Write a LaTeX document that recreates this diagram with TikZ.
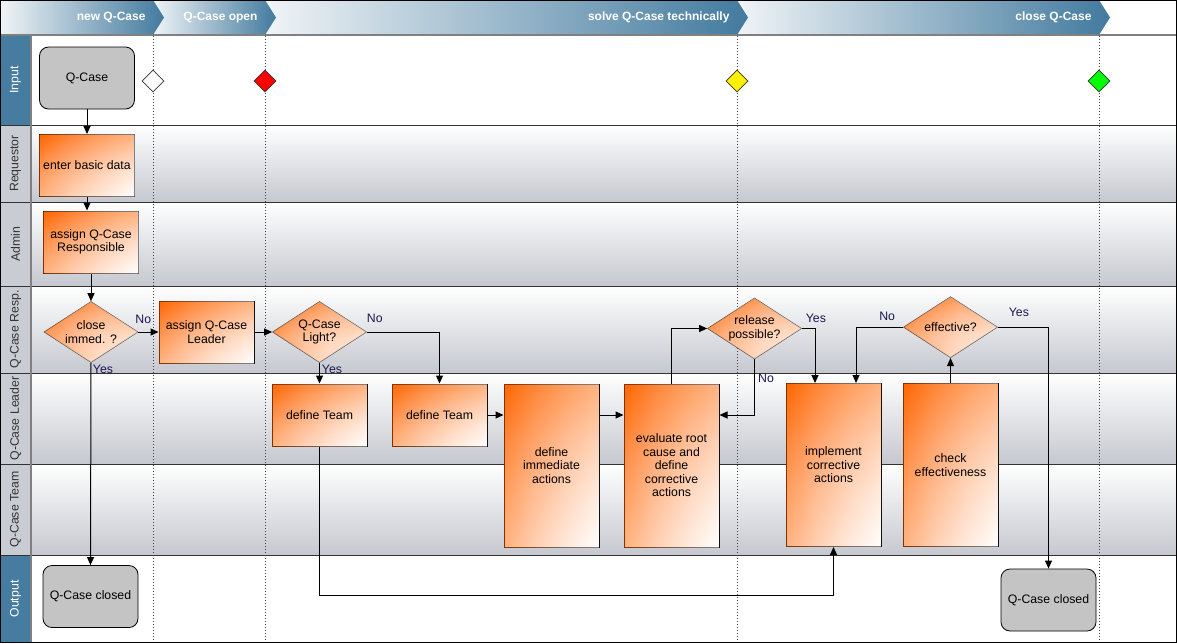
\documentclass[tikz,border=0pt]{standalone}
\usepackage{fontspec}
\setmainfont{Liberation Sans}
\usepackage{tikz}
\usetikzlibrary{arrows.meta,positioning,shapes.geometric,calc}
\definecolor{qorange}{RGB}{255,102,0}
\definecolor{qmid}{RGB}{255,165,110}
\definecolor{qlight}{RGB}{255,214,188}
\definecolor{qpeach}{RGB}{255,236,222}
\definecolor{headblue}{RGB}{66,122,158}
\definecolor{headpale}{RGB}{240,244,247}
\definecolor{lanegrey}{RGB}{197,200,207}
\definecolor{labelgrey}{RGB}{201,204,210}
\definecolor{laneblue}{RGB}{69,124,160}
\definecolor{boxgrey}{RGB}{196,196,196}
\definecolor{yesno}{RGB}{25,25,80}
\pgfdeclareverticalshading{taskv}{100bp}{color(0bp)=(white); color(25bp)=(white); color(42bp)=(qlight); color(58bp)=(qmid); color(75bp)=(qorange); color(100bp)=(qorange)}
\pgfdeclarehorizontalshading{taskh}{100bp}{color(0bp)=(qorange); color(25bp)=(qorange); color(42bp)=(qmid); color(58bp)=(qlight); color(75bp)=(white); color(100bp)=(white)}
\pgfdeclareverticalshading{decv}{100bp}{color(0bp)=(qpeach); color(25bp)=(qpeach); color(45bp)=(qlight); color(60bp)=(qmid); color(75bp)=(qorange); color(100bp)=(qorange)}
\pgfdeclarehorizontalshading{dech}{100bp}{color(0bp)=(qorange); color(25bp)=(qorange); color(40bp)=(qmid); color(55bp)=(qlight); color(75bp)=(qpeach); color(100bp)=(qpeach)}
\tikzset{
  task/.style={draw, line width=1pt, shade, shading=taskv,
    postaction={shade, shading=taskh, fill opacity=0.5},
    align=center, inner sep=2pt, minimum width=95pt, minimum height=62pt},
  tall/.style={task, minimum height=163pt},
  decision/.style={diamond, draw=black!70, line width=0.7pt, shade, shading=decv,
    postaction={shade, shading=dech, fill opacity=0.5},
    align=center, inner sep=0pt, shape aspect=1.55, minimum width=94pt, minimum height=61pt},
  terminal/.style={draw, line width=0.8pt, rounded corners=9pt, fill=boxgrey, align=center, minimum width=95pt, minimum height=62pt},
  event/.style={diamond, draw=black!80, line width=0.7pt, inner sep=0pt, minimum width=22pt, minimum height=22pt},
  phase/.style={anchor=east, text=white, font=\fontsize{12}{14}\selectfont\bfseries},
  lanelbl/.style={rotate=90},
  lbl/.style={text=yesno, inner sep=0pt},
  milestone/.style={line width=1pt, black!75, dash pattern=on 1pt off 2pt},
  arrow/.style={-{Triangle[length=8pt,width=7pt]}, line width=1pt}
}
\begin{document}
\begin{tikzpicture}[x=1pt, y=-1pt, font=\fontsize{12.3}{13.5}\selectfont]
    \useasboundingbox (0,0) rectangle (1177,643);
    % Lanes
    \fill[white] (0,0) rectangle (1177,643);
    \shade[top color=white, bottom color=lanegrey] (31,125) rectangle (1177,202);
    \shade[top color=white, bottom color=lanegrey] (31,202) rectangle (1177,286);
    \shade[top color=white, bottom color=lanegrey] (31,286) rectangle (1177,373);
    \shade[top color=white, bottom color=lanegrey] (31,373) rectangle (1177,464);
    \shade[top color=white, bottom color=lanegrey] (31,464) rectangle (1177,555);
    \fill[laneblue] (0,35) rectangle (31,125);
    \fill[labelgrey] (0,125) rectangle (31,555);
    \fill[laneblue] (0,555) rectangle (31,643);
    \foreach \y in {125,202,286,373,464,555}
      \draw[line width=1pt, black!80] (0,\y) -- (1177,\y);
    \draw[line width=2pt, black!50] (31,35) -- (31,643);

    \node[lanelbl, text=white] (linput) at (15.5,80) {Input};
    \node[lanelbl, text=black!80] (lreq) at (15.5,163.5) {Requestor};
    \node[lanelbl, text=black!80] (ladmin) at (15.5,244) {Admin};
    \node[lanelbl, text=black!80] (lresp) at (15.5,329.5) {Q-Case Resp.};
    \node[lanelbl, text=black!80] (llead) at (15.5,418.5) {Q-Case Leader};
    \node[lanelbl, text=black!80] (lteam) at (15.5,509.5) {Q-Case Team};
    \node[lanelbl, text=white] (loutput) at (15.5,599) {Output};

    % Phases
    \foreach \a/\b in {737/1099, 265/737, 153/265, 0/153}
      \shade[left color=headpale, right color=headblue] (\a,0) -- (\b,0) -- (\b+11,17.5) -- (\b,35) -- (\a,35) -- cycle;
    \node[phase] (ph1) at (149,17.5) {new Q-Case};
    \node[phase] (ph2) at (261,17.5) {Q-Case open};
    \node[phase] (ph3) at (733,17.5) {solve Q-Case technically};
    \node[phase] (ph4) at (1095,17.5) {close Q-Case};
    \draw[line width=2pt, black!50] (0,35) -- (1177,35);

    % Milestones
    \foreach \x in {153,265,737,1099}
      \draw[milestone] (\x,36) -- (\x,643);
    \node[event, fill=white] (ev1) at (153,81) {};
    \node[event, fill=red] (ev2) at (265,81) {};
    \node[event, fill=yellow] (ev3) at (737,81) {};
    \node[event, fill=green] (ev4) at (1099,81) {};

    % Nodes
    \node[terminal] (qcase) at (87,78) {Q-Case};
    \node[task] (enter) at (87,165.5) {enter basic data};
    \node[task] (assignresp) at (91,242) {assign Q-Case\\Responsible};
    \node[decision] (closeimm) at (91,332) {close\\immed. ?};
    \node[task] (assignlead) at (206.5,332) {assign Q-Case\\Leader};
    \node[decision] (light) at (319.5,332) {Q-Case\\Light?};
    \node[task] (team1) at (319.5,415) {define Team};
    \node[task, right=24pt of team1] (team2) {define Team};
    \node[tall] (immed) at (551.5,465.5) {define\\immediate\\actions};
    \node[tall, right=24pt of immed] (evaluate) {evaluate root\\cause and\\define\\corrective\\actions};
    \node[decision] (release) at (754.5,328.5) {release\\possible?};
    \node[tall] (implement) at (833.5,465) {implement\\corrective\\actions};
    \node[tall, right=21pt of implement] (check) {check\\effectiveness};
    \node[decision, above=25pt of check] (effective) {effective?};
    \node[terminal] (closedl) at (90.5,596.5) {Q-Case closed};
    \node[terminal] (closedr) at (1048.5,600) {Q-Case closed};
    \coordinate (loop) at ($(implement.south)+(0,48)$);

    % Arrows
    \draw[arrow] (qcase) -- (enter);
    \draw[arrow] (enter) -- (enter |- assignresp.north);
    \draw[arrow] (assignresp) -- (closeimm);
    \draw[arrow] (closeimm.south) -- (closedl.north)
      node[lbl, at start, xshift=12pt, yshift=-6pt] {Yes};
    \draw[arrow] (closeimm.east) -- (assignlead.west)
      node[lbl, at start, xshift=5pt, yshift=13pt] {No};
    \draw[arrow] (assignlead) -- (light);
    \draw[arrow] (light.south) -- (team1.north)
      node[lbl, at start, xshift=12.5pt, yshift=-6pt] {Yes};
    \draw[arrow] (light.east) -| (team2.north)
      node[lbl, at start, xshift=8pt, yshift=14pt] {No};
    \draw[arrow] (team2.east) -- (team2.east -| immed.west);
    \draw[arrow] (immed.east |- team2.east) -- (evaluate.west |- team2.east);
    \draw[arrow] (evaluate.north) |- (release.west);
    \draw[arrow] (release.south) |- (evaluate.east |- team2.east)
      node[lbl, at start, xshift=11.5pt, yshift=-19pt] {No};
    \draw[arrow] (release.east) -| ([xshift=-18.5pt]implement.north)
      node[lbl, at start, xshift=14pt, yshift=10.5pt] {Yes};
    \draw[arrow] (team1.south) |- (loop) -- (implement.south);
    \draw[arrow] (check) -- (effective);
    \draw[arrow] (effective.west) -| ([xshift=22.5pt]implement.north)
      node[lbl, at start, xshift=-16pt, yshift=10.5pt] {No};
    \draw[arrow] (effective.east) -| (closedr.north)
      node[lbl, at start, xshift=21pt, yshift=14.5pt] {Yes};

    % Border
    \draw[line width=1pt] (0.5,0.5) rectangle (1176.5,642.5);
\end{tikzpicture}
\end{document}
